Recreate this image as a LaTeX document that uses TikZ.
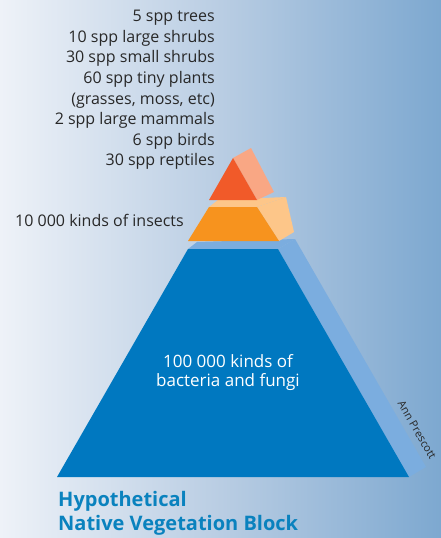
\documentclass[tikz,border=0pt]{standalone}
\usepackage{fontspec}
\setmainfont{Open Sans}
\definecolor{bgl}{RGB}{238,242,248}
\definecolor{bgm}{RGB}{185,205,227}
\definecolor{bgr}{RGB}{125,168,208}
\definecolor{bluefront}{RGB}{0,120,192}
\definecolor{blueside}{RGB}{123,173,223}
\definecolor{orfront}{RGB}{247,147,30}
\definecolor{orside}{RGB}{253,198,137}
\definecolor{redfront}{RGB}{241,90,41}
\definecolor{redside}{RGB}{249,167,132}
\definecolor{txt}{RGB}{40,40,40}
\definecolor{titleblue}{RGB}{10,130,190}
\tikzset{
  face/.style={draw=none},
  lbl/.style={inner sep=0pt, text=txt, font=\fontsize{16}{20.6}\selectfont},
}
\begin{document}
\begin{tikzpicture}[x=1pt,y=-1pt]
\useasboundingbox (0,0) rectangle (441,538);
\shade[left color=bgl, right color=bgr, middle color=bgm] (0,0) rectangle (441,538);
% base block
\fill[blueside] (188,249) -- (197,242) -- (295,239) -- (278,249) -- cycle;
\fill[blueside] (278,249) -- (295,239) -- (426,467) -- (409,477) -- cycle;
\fill[bluefront] (188,249) -- (278,249) -- (409,477) -- (57,477) -- cycle;
% middle block
\fill[orside] (209,207) -- (218,200) -- (286,197) -- (257,207) -- cycle;
\fill[orside] (257,207) -- (286,197) -- (294,232) -- (279,241) -- cycle;
\fill[orfront] (209,207) -- (257,207) -- (279,241) -- (188,241) -- cycle;
% top block
\fill[redside] (233,158) -- (251,148) -- (274,192) -- (257,200) -- cycle;
\fill[redfront] (233,158) -- (257,200) -- (209,200) -- cycle;
% labels
\node[lbl, anchor=east, align=right] (top) at (215,90) {5 spp trees\\10 spp large shrubs\\30 spp small shrubs\\60 spp tiny plants\\(grasses, moss, etc)\\2 spp large mammals\\6 spp birds\\30 spp reptiles};
\node[lbl, anchor=west] (ins) at (15,220) {10 000 kinds of insects};
\node[lbl, text=white, align=center, font=\fontsize{17}{19}\selectfont] (bac) at (228,372.5) {100 000 kinds of\\bacteria and fungi};
\node[lbl, font=\fontsize{11}{13}\selectfont, rotate=-60] (ann) at (417,430) {Ann Prescott};
\node[inner sep=0pt, anchor=west, align=left, text=titleblue, font=\fontsize{20}{24}\bfseries\selectfont] (title) at (58,513) {Hypothetical\\Native Vegetation Block};
\end{tikzpicture}
\end{document}
